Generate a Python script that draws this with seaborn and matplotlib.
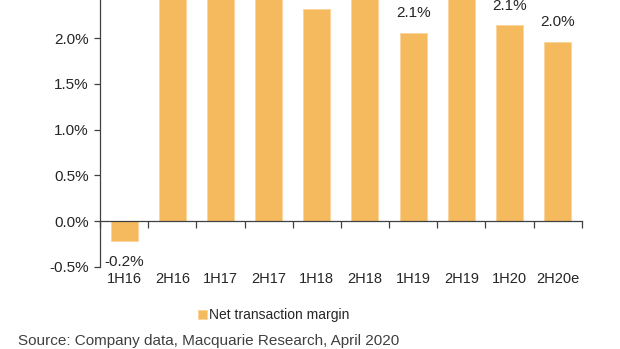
import matplotlib
matplotlib.use("Agg")
import matplotlib.pyplot as plt
import seaborn as sns
import numpy as np

periods = ["1H16", "2H16", "1H17", "2H17", "1H18", "2H18", "1H19", "2H19", "1H20", "2H20e"]
margin_pct = [-0.22, 2.6, 2.7, 2.7, 2.32, 2.5, 2.06, 2.6, 2.14, 1.96]
y_ticks = [-0.5, 0.0, 0.5, 1.0, 1.5, 2.0]
series_name = "Net transaction margin"
source_note = "Source: Company data, Macquarie Research, April 2020"

BAR = "#F5BA5E"
TXT = "#262626"

sns.set_theme(style="white")
plt.rcParams["font.family"] = ["Liberation Sans", "DejaVu Sans"]

fig = plt.figure(figsize=(6.2, 3.49), dpi=100)
W, H = 620, 349
ax = fig.add_axes([100 / W, 1 - 266.7 / H, (581.7 - 100) / W, 266.7 / H])

Y_TOP = 2.418
sns.barplot(x=periods, y=margin_pct, color=BAR, saturation=1, width=0.56, ax=ax,
            edgecolor="#FAD49A", linewidth=0.6, label=series_name)
handles, labels = ax.get_legend_handles_labels()
if ax.get_legend() is not None:
    ax.get_legend().remove()

ax.set_xlim(-0.5, len(periods) - 0.5)
ax.set_ylim(-0.5, Y_TOP)
ax.set_yticks(y_ticks)
ax.set_yticklabels([f"{t:.1f}%" for t in y_ticks])
ax.tick_params(axis="y", which="major", length=4, width=0.9, color="#404040",
               direction="out", labelsize=11, labelcolor=TXT, pad=4, left=True)

for side in ("top", "right"):
    ax.spines[side].set_visible(False)
ax.spines["left"].set_color("#404040")
ax.spines["left"].set_linewidth(0.9)
ax.spines["bottom"].set_position(("data", 0))
ax.spines["bottom"].set_color("#404040")
ax.spines["bottom"].set_linewidth(0.9)

# category boundaries get the tick marks, labels sit below the axis floor
ax.set_xticks(np.arange(len(periods)))
ax.set_xticklabels(periods)
ax.set_xticks(np.arange(-0.5, len(periods)), minor=True)
ax.tick_params(axis="x", which="major", length=0, labelsize=10.5, labelcolor=TXT, pad=37)
ax.tick_params(axis="x", which="minor", length=5, width=0.9, color="#404040",
               direction="out", bottom=True)
ax.set_xlabel("")
ax.set_ylabel("")

# value labels only where they fall inside the visible range
for i, v in enumerate(margin_pct):
    if v >= 0 and v + 0.16 > Y_TOP:
        continue
    off = 14 if v >= 0 else -15
    ax.annotate(f"{v:.1f}%", xy=(i, v), xytext=(0, off), textcoords="offset points",
                ha="center", va="center", fontsize=11, color=TXT, annotation_clip=False)

leg = fig.legend(handles[:1], labels[:1], loc="center", bbox_to_anchor=(274 / W, 1 - 315 / H),
                 frameon=False, fontsize=10, handlelength=0.6, handleheight=0.6,
                 handletextpad=0.2, borderaxespad=0)
for t in leg.get_texts():
    t.set_color(TXT)

fig.text(18 / W, 1 - 341 / H, source_note, ha="left", va="center",
         fontsize=11, color="#404040")

fig.savefig("out.png", dpi=100)
